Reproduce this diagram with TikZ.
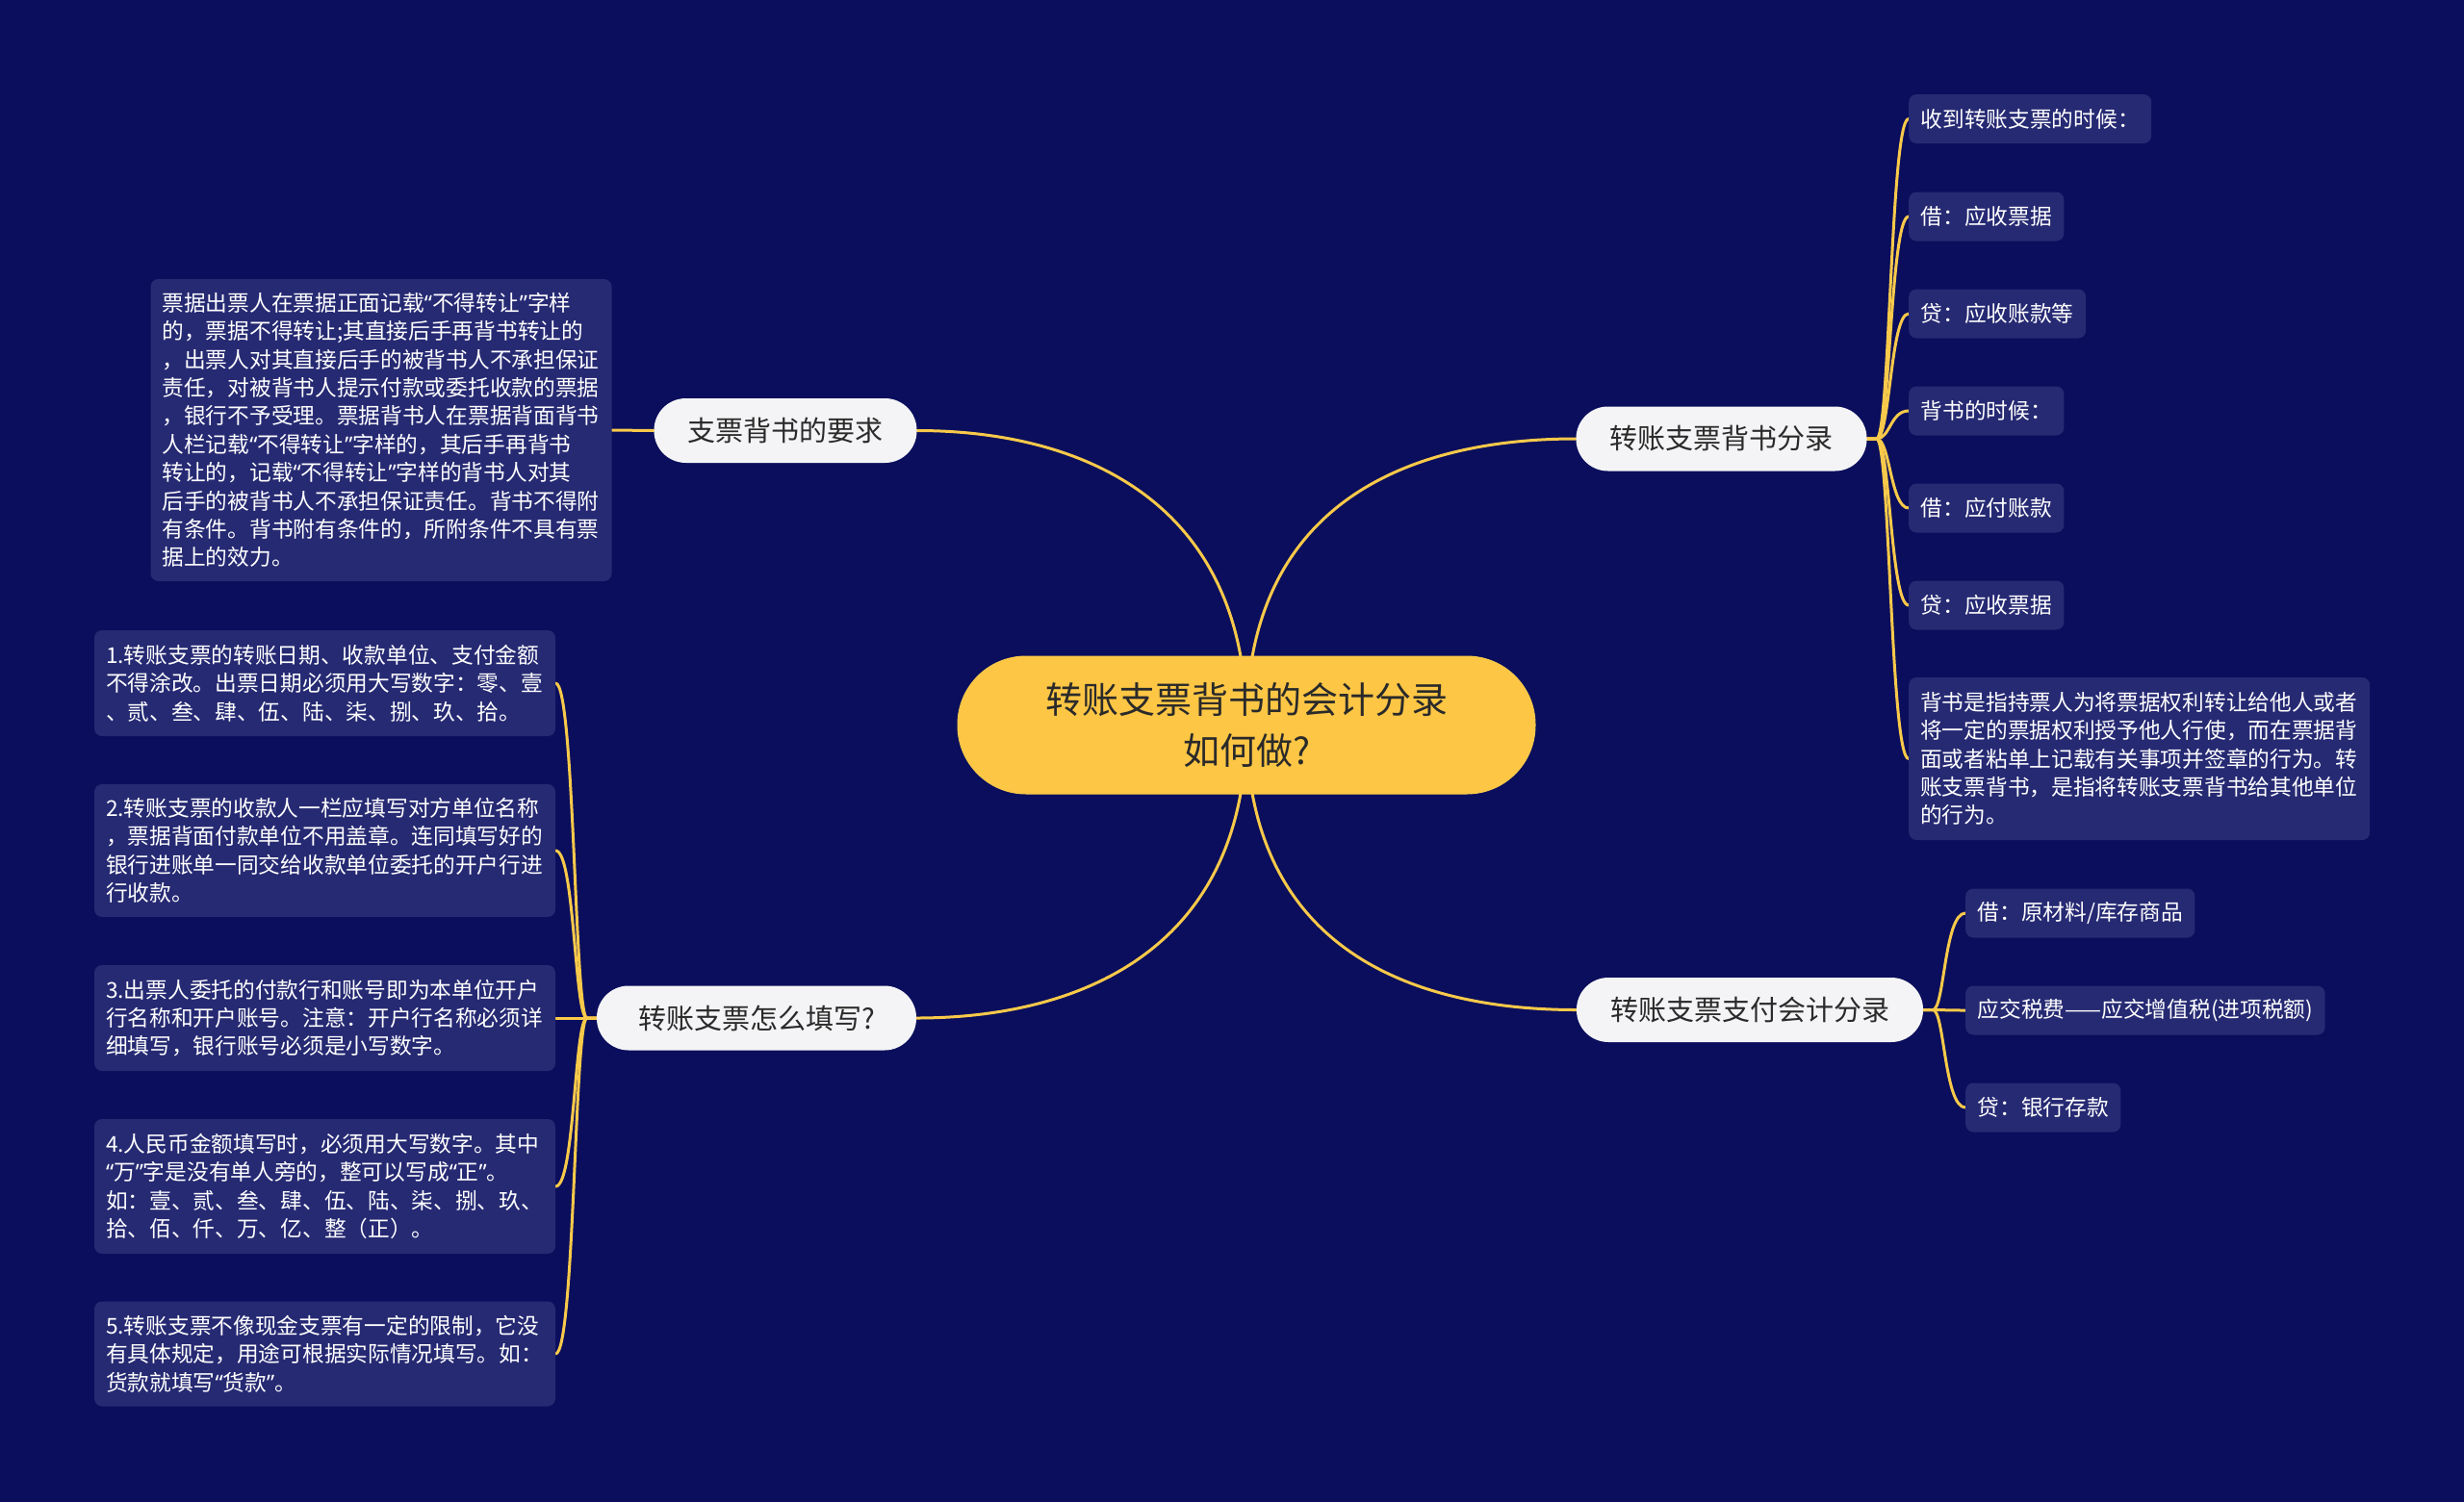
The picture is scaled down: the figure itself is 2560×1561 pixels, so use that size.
\documentclass[tikz,border=0pt]{standalone}
\usepackage{fontspec}
\setmainfont{Noto Sans CJK SC}
\newfontfamily\qfont{Noto Sans}
\newcommand\myql{{\qfont “}}
\newcommand\myqr{{\qfont ”}}
\usetikzlibrary{calc}
\pgfdeclarelayer{bg}
\pgfsetlayers{bg,main}
\definecolor{bgc}{HTML}{0A0E5C}
\definecolor{boxc}{HTML}{262A73}
\definecolor{linec}{HTML}{F8C94A}
\definecolor{centc}{HTML}{FDC645}
\definecolor{pillc}{HTML}{F4F4F6}
\definecolor{darktxt}{HTML}{2A2A2A}
\begin{document}
\begin{tikzpicture}[x=1pt,y=-1pt,
  leaf/.style={fill=boxc, rounded corners=8pt, text=white,
    font=\fontsize{22.7}{29.4}\selectfont, inner xsep=12.5pt, inner ysep=6pt,
    minimum height=51pt},
  para/.style={leaf, text width=455pt, align=left, inner xsep=12pt},
  pill/.style={fill=pillc, rounded corners=33pt, text=darktxt,
    font=\fontsize{29}{34}\selectfont, minimum height=67pt, inner xsep=35pt, inner ysep=4pt},
  hub/.style={fill=centc, draw=linec, line width=1pt, rounded corners=71pt, text=darktxt,
    font=\fontsize{38}{53}\selectfont, align=center, minimum width=600pt,
    minimum height=143pt, inner ysep=2pt},
  conn/.style={draw=linec, line width=3pt, line cap=round}]

\useasboundingbox (0,0) rectangle (2560,1561);

% central
\node[hub] (c) at (1295,753.5) {转账支票背书的会计分录\\如何做?};

% branches
\node[pill] (b1) at (816,447.5) {支票背书的要求};
\node[pill, minimum width=332pt] (b2) at (786,1058) {转账支票怎么填写?};
\node[pill] (b3) at (1788.5,456) {转账支票背书分录};
\node[pill] (b4) at (1818,1049.5) {转账支票支付会计分录};

% left-top paragraph
\node[para, minimum height=314pt] (l0) at (396,447) {票据出票人在票据正面记载\myql 不得转让\myqr 字样\\
的，票据不得转让;其直接后手再背书转让的\\
，出票人对其直接后手的被背书人不承担保证\\
责任，对被背书人提示付款或委托收款的票据\\
，银行不予受理。票据背书人在票据背面背书\\
人栏记载\myql 不得转让\myqr 字样的，其后手再背书\\
转让的，记载\myql 不得转让\myqr 字样的背书人对其\\
后手的被背书人不承担保证责任。背书不得附\\
有条件。背书附有条件的，所附条件不具有票\\
据上的效力。};

% left-bottom paragraphs
\node[para, minimum height=110pt] (l1) at (337.5,710) {1.转账支票的转账日期、收款单位、支付金额\\
不得涂改。出票日期必须用大写数字：零、壹\\
、贰、叁、肆、伍、陆、柒、捌、玖、拾。};
\node[para, minimum height=138pt] (l2) at (337.5,884) {2.转账支票的收款人一栏应填写对方单位名称\\
，票据背面付款单位不用盖章。连同填写好的\\
银行进账单一同交给收款单位委托的开户行进\\
行收款。};
\node[para, minimum height=110pt] (l3) at (337.5,1058) {3.出票人委托的付款行和账号即为本单位开户\\
行名称和开户账号。注意：开户行名称必须详\\
细填写，银行账号必须是小写数字。};
\node[para, minimum height=140pt] (l4) at (337.5,1233) {4.人民币金额填写时，必须用大写数字。其中\\
\myql 万\myqr 字是没有单人旁的，整可以写成\myql 正\myqr 。\\
如：壹、贰、叁、肆、伍、陆、柒、捌、玖、\\
拾、佰、仟、万、亿、整（正）。};
\node[para, minimum height=109pt] (l5) at (337.5,1407) {5.转账支票不像现金支票有一定的限制，它没\\
有具体规定，用途可根据实际情况填写。如：\\
货款就填写\myql 货款\myqr 。};

% right-top children
\node[leaf, anchor=west] (r1) at (1983,123.5) {收到转账支票的时候：};
\node[leaf, anchor=west] (r2) at (1983,225) {借：应收票据};
\node[leaf, anchor=west] (r3) at (1983,326) {贷：应收账款等};
\node[leaf, anchor=west] (r4) at (1983,427) {背书的时候：};
\node[leaf, anchor=west] (r5) at (1983,528) {借：应付账款};
\node[leaf, anchor=west] (r6) at (1983,629) {贷：应收票据};
\node[para, anchor=west, minimum height=169pt] (r7) at (1983,788.5) {背书是指持票人为将票据权利转让给他人或者\\
将一定的票据权利授予他人行使，而在票据背\\
面或者粘单上记载有关事项并签章的行为。转\\
账支票背书，是指将转账支票背书给其他单位\\
的行为。};

% right-bottom children
\node[leaf, anchor=west] (p1) at (2042,949) {借：原材料/库存商品};
\node[leaf, anchor=west] (p2) at (2042,1050) {应交税费——应交增值税(进项税额)};
\node[leaf, anchor=west] (p3) at (2042,1151) {贷：银行存款};

\begin{pgfonlayer}{bg}
  \fill[bgc] (0,0) rectangle (2560,1561);
  % main curves
  \draw[conn] (c.center) .. controls +(0,-230) and +(175,0) .. (b1.east);
  \draw[conn] (c.center) .. controls +(0,230) and +(175,0) .. (b2.east);
  \draw[conn] (c.center) .. controls +(0,-230) and +(-175,0) .. (b3.west);
  \draw[conn] (c.center) .. controls +(0,230) and +(-175,0) .. (b4.west);
  % left top
  \draw[conn] (b1.west) -- (l0.east);
  % left bottom
  \foreach \n in {l1,l2,l3,l4,l5}
    \draw[conn] (b2.west) -- ++(-10,0) .. controls +(-13,0) and +(20,0) .. (\n.east);
  % right top
  \foreach \n in {r1,r2,r3,r4,r5,r6,r7}
    \draw[conn] (b3.east) -- ++(10,0) .. controls +(14,0) and +(-19,0) .. (\n.west);
  % right bottom
  \foreach \n in {p1,p2,p3}
    \draw[conn] (b4.east) -- ++(10,0) .. controls +(12,0) and +(-22,0) .. (\n.west);
\end{pgfonlayer}
\end{tikzpicture}
\end{document}
